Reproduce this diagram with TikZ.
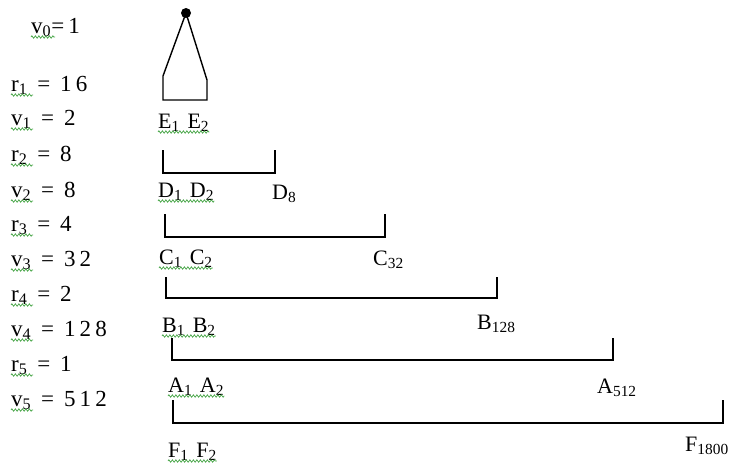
\documentclass[tikz,border=0pt]{standalone}
\usepackage{fontspec}
\setmainfont{Liberation Serif}
\newfontfamily\widefont[LetterSpace=18]{Liberation Serif}
\usetikzlibrary{decorations.pathmorphing}
\definecolor{spellgreen}{RGB}{70,165,70}
\tikzset{
  lvl/.style={anchor=base west, inner sep=0pt, font=\widefont\fontsize{23}{27}\selectfont},
  lbl/.style={anchor=base west, inner sep=0pt, font=\fontsize{22}{26}\selectfont},
  bracket/.style={line width=1.4pt, line join=miter},
  squiggle/.style={spellgreen, line width=0.7pt,
                   decorate, decoration={zigzag, segment length=3.5pt, amplitude=1.2pt}},
}
\newcommand{\sub}[1]{\textsubscript{#1}}

\begin{document}
\begin{tikzpicture}[x=1pt, y=-1pt]
    \useasboundingbox (0,0) rectangle (731,466);
    % level labels
    \node[lvl] (vzero) at (31,33) {v\sub{0}=1};
    \node[lvl] (rone) at (11,91) {r\sub{1} = 16};
    \node[lvl] (vone) at (11,125) {v\sub{1} = 2};
    \node[lvl] (rtwo) at (11,161) {r\sub{2} = 8};
    \node[lvl] (vtwo) at (11,197) {v\sub{2} = 8};
    \node[lvl] (rthree) at (11,231) {r\sub{3} = 4};
    \node[lvl] (vthree) at (11,266) {v\sub{3} = 32};
    \node[lvl] (rfour) at (11,301) {r\sub{4} = 2};
    \node[lvl] (vfour) at (11,336) {v\sub{4} = 128};
    \node[lvl] (rfive) at (11,371) {r\sub{5} = 1};
    \node[lvl] (vfive) at (11,406) {v\sub{5} = 512};
    % tree
    \node[circle, fill, inner sep=0pt, minimum size=10pt] (root) at (186,13) {};
    \draw[bracket] (root.center) -- (163,76) |- (207,100) -- (207,80) -- (root.center);
    \node[lbl] (E) at (158,128) {E\sub{1}\hspace{0.35em}E\sub{2}};
    \draw[bracket] (163,150) |- (275,173) -- (275,150);
    \node[lbl] (D) at (158,197) {D\sub{1}\hspace{0.35em}D\sub{2}};
    \node[lbl] (Dlast) at (272,199) {D\sub{8}};
    \draw[bracket] (165,214) |- (385,237) -- (385,214);
    \node[lbl] (C) at (159,264) {C\sub{1}\hspace{0.35em}C\sub{2}};
    \node[lbl] (Clast) at (373,265) {C\sub{32}};
    \draw[bracket] (166,277) |- (497,298) -- (497,277);
    \node[lbl] (B) at (162,332) {B\sub{1}\hspace{0.35em}B\sub{2}};
    \node[lbl] (Blast) at (477,329) {B\sub{128}};
    \draw[bracket] (172,338) |- (613,360) -- (613,338);
    \node[lbl] (A) at (168,392) {A\sub{1}\hspace{0.35em}A\sub{2}};
    \node[lbl] (Alast) at (597,393) {A\sub{512}};
    \draw[bracket] (173,400) |- (723,423) -- (723,400);
    \node[lbl] (F) at (168,457) {F\sub{1}\hspace{0.35em}F\sub{2}};
    \node[lbl] (Flast) at (685,451) {F\sub{1800}};
    % spell-check marks
    \foreach \n in {rone, vone, rtwo, vtwo, rthree, vthree, rfour, vfour, rfive, vfive}
      \draw[squiggle] ([yshift=-4pt]\n.base west) -- ++(22,0);
    \draw[squiggle] ([yshift=-4pt]vzero.base west) -- ++(24,0);
    \foreach \n in {E, D, C, B, A, F}
      \draw[squiggle] ([yshift=-4pt]\n.base west) -- ([yshift=-4pt]\n.base east);
\end{tikzpicture}
\end{document}
